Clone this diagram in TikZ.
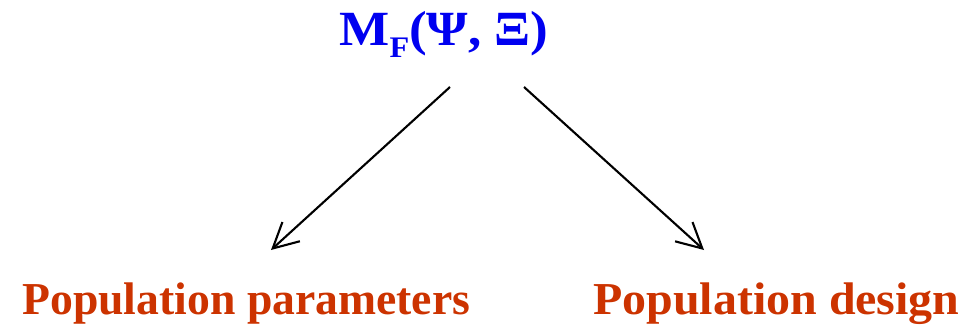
\documentclass[tikz,border=0pt]{standalone}
\usepackage{fontspec}
\setmainfont{Liberation Serif}
\usepackage{tikz}
\usetikzlibrary{arrows.meta,positioning}
\usepackage{xcolor}
\definecolor{modelblue}{HTML}{0000F0}
\definecolor{labelrust}{HTML}{CC3300}

\begin{document}
\begin{tikzpicture}[x=0.02cm,y=-0.02cm,
  lbl/.style={font=\fontsize{26}{30}\selectfont\bfseries,labelrust,inner sep=0pt},
  link/.style={-{Straight Barb[length=0.5cm,width=0.52cm]},line width=1.2pt}]
\useasboundingbox (0,0) rectangle (967,328);
\node[font=\fontsize{28}{32}\selectfont\bfseries,modelblue,inner sep=0pt,anchor=base,xscale=1.08] (model) at (444,45)
  {M\raisebox{-0.26cm}{\fontsize{17}{17}\selectfont F}(Ψ, Ξ)};
\node[lbl,anchor=base west] (params) at (22,314) {Population parameters};
\node[lbl,anchor=base east,xscale=1.05] (design) at (960,314) {Population design};
\coordinate (lfrom) at (450,87);
\coordinate (lto) at (271,250);
\coordinate (rfrom) at (524,87);
\coordinate (rto) at (704,250);
\draw[link] (lfrom)--(lto);
\draw[link] (rfrom)--(rto);
\end{tikzpicture}
\end{document}
